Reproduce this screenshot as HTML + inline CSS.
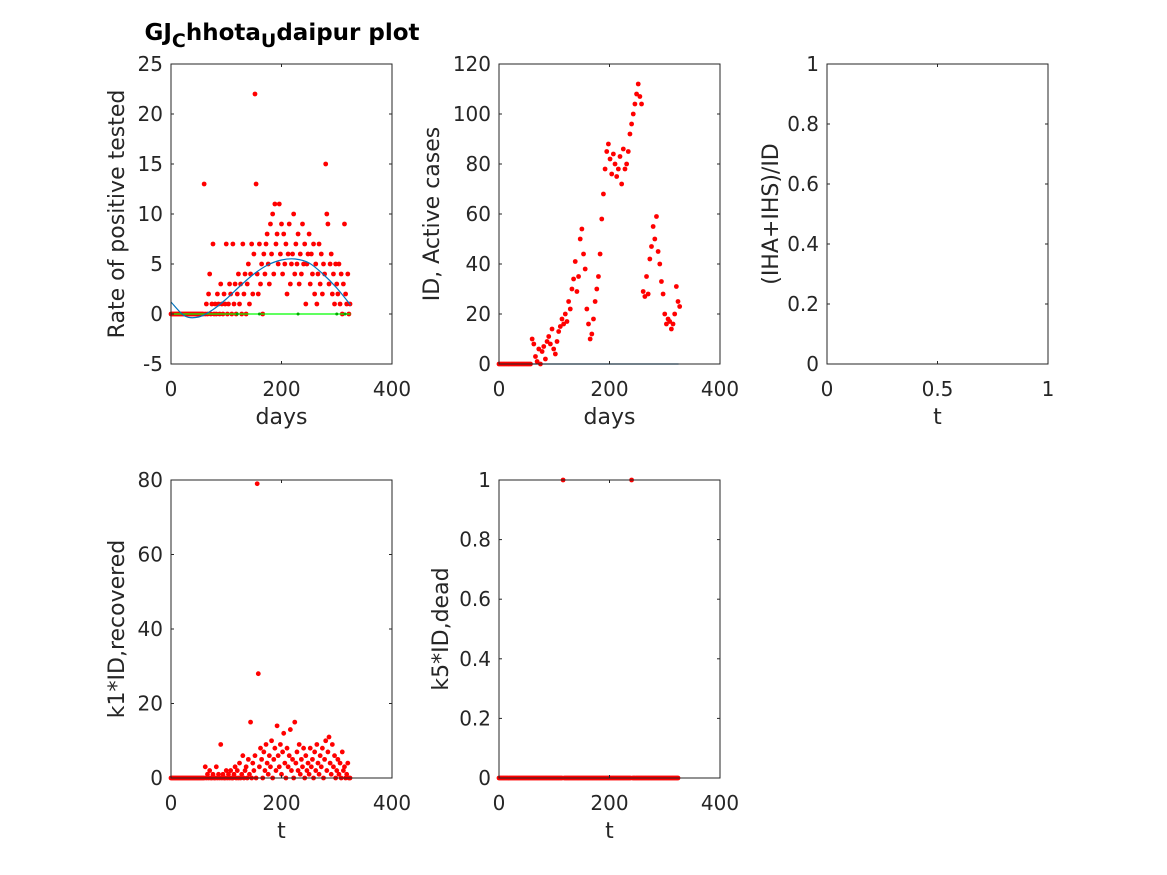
<!DOCTYPE html>
<html><head><meta charset="utf-8"><style>
body{margin:0;background:#fff;}
svg{display:block;font-family:"DejaVu Sans","Liberation Sans",sans-serif;}
</style></head><body>
<svg id="fig" width="1167" height="875" viewBox="0 0 1167 875" xmlns="http://www.w3.org/2000/svg">
<rect width="1167" height="875" fill="#fff"/>
<text x="282" y="40" text-anchor="middle" font-weight="bold" font-size="23" fill="#000">GJ<tspan font-size="19" dy="7">C</tspan><tspan dy="-7">hhota</tspan><tspan font-size="19" dy="7">U</tspan><tspan dy="-7">daipur plot</tspan></text>
</svg>
<script>
const rateStart=0, rateStep=2;
const rateVals=[0,0,0,0,0,0,0,0,0,0,0,0,0,0,0,0,0,0,0,0,0,0,0,0,0,0,0,0,0,0,
13,0,1,0,2,4,0,1,7,0,1,0,2,1,0,3,1,0,2,1,7,
0,1,3,2,0,7,1,3,0,2,4,1,3,0,7,2,4,0,3,5,1,4,7,2,6,
22,13,4,2,7,3,5,0,6,4,7,8,5,3,9,6,10,4,11,7,8,5,11,6,9,
4,8,5,7,2,6,9,3,5,6,10,4,7,5,8,3,6,4,9,5,7,1,5,6,8,
3,6,4,7,2,5,1,4,7,3,6,2,5,4,15,10,9,3,5,6,2,4,1,5,3,
2,5,1,4,0,3,9,2,1,4,0,1];
const fitDays=[0,25,50,75,100,125,150,175,200,225,250,275,300,325];
const fitVals=[1.2,-0.2,-0.3,0.4,1.5,2.8,4.0,4.9,5.4,5.5,5.1,4.0,2.6,0.9];
const greenDays=[0,325];
const greenVals=[0,0];
const greenDotDays=[120,160,230,300,315];
const activeStart=0, activeStep=3;
const activeVals=[0,0,0,0,0,0,0,0,0,0,0,0,0,0,0,0,0,0,0,0,
10,8,3,1,6,0,5,7,2,9,
11,8,14,6,4,9,13,15,18,16,
20,17,25,22,30,34,41,29,35,50,
54,44,38,22,16,10,12,18,25,30,
35,44,58,68,78,85,88,82,76,84,
80,75,78,83,72,86,78,80,85,92,
96,100,104,108,112,107,104,29,27,35,
28,42,47,55,50,59,45,40,33,28,
20,16,18,17,14,16,20,31,25,23];
const activeFitDays=[60,325];
const activeFitVals=[0,0];
const recStart=0, recStep=2;
const recVals=[0,0,0,0,0,0,0,0,0,0,0,0,0,0,0,0,0,0,0,0,0,0,0,0,0,0,0,0,0,0,
0,3,0,1,0,2,0,0,1,0,0,3,0,1,0,9,0,1,0,0,2,
0,1,0,2,0,0,1,3,0,2,0,4,0,1,6,0,2,3,0,5,1,15,0,4,2,
6,0,79,28,3,8,5,0,7,2,9,4,1,6,3,10,0,5,8,2,14,6,3,9,1,
7,12,4,0,8,3,6,13,2,5,0,15,4,7,2,9,1,5,3,8,0,6,2,4,1,
8,3,5,0,7,2,9,4,1,6,3,8,0,5,10,2,7,11,4,1,9,3,6,0,2,
5,1,4,0,7,2,3,0,1,4,0,0];
const deadStart=0, deadStep=2;
const deadVals=[0,0,0,0,0,0,0,0,0,0,0,0,0,0,0,0,0,0,0,0,0,0,0,0,0,0,0,0,0,0,
0,0,0,0,0,0,0,0,0,0,0,0,0,0,0,0,0,0,0,0,0,0,0,0,0,0,0,0,1,0,
0,0,0,0,0,0,0,0,0,0,0,0,0,0,0,0,0,0,0,0,0,0,0,0,0,0,0,0,0,0,
0,0,0,0,0,0,0,0,0,0,0,0,0,0,0,0,0,0,0,0,0,0,0,0,0,0,0,0,0,0,
1,0,0,0,0,0,0,0,0,0,0,0,0,0,0,0,0,0,0,0,0,0,0,0,0,0,0,0,0,0,
0,0,0,0,0,0,0,0,0,0,0,0,0];
const ticks1=[-5,0,5,10,15,20,25];
const ticks2=[0,20,40,60,80,100,120];
const ticks3=[0,0.2,0.4,0.6,0.8,1];
const ticks4=[0,20,40,60,80];
const ticksDays=[0,200,400];
const ticksT=[0,0.5,1];

const svg=document.getElementById('fig');
const NS='http://www.w3.org/2000/svg';
function mk(tag,attrs,parent){const e=document.createElementNS(NS,tag);for(const k in attrs)e.setAttribute(k,attrs[k]);(parent||svg).appendChild(e);return e;}

function axes(name,x0,y0,w,h,xmin,xmax,ymin,ymax,xt,yt,xlabel,ylabel,ylx){
  const g=mk('g',{});
  
  
  const sx=v=>x0+(v-xmin)/(xmax-xmin)*w;
  const sy=v=>y0+h-(v-ymin)/(ymax-ymin)*h;
  const plot=mk('g',{},g);
  
  
  const tl=3;
  xt.forEach(v=>{
    const x=sx(v);
    mk('line',{x1:x,y1:y0+h,x2:x,y2:y0+h-tl,stroke:'#262626','stroke-width':1},g);
    mk('line',{x1:x,y1:y0,x2:x,y2:y0+tl,stroke:'#262626','stroke-width':1},g);
    const t=mk('text',{x:x,y:y0+h+32,'text-anchor':'middle','font-size':20,fill:'#262626'},g);
    t.textContent=String(v);
    
    
  });
  yt.forEach(v=>{
    const y=sy(v);
    mk('line',{x1:x0,y1:y,x2:x0+tl,y2:y,stroke:'#262626','stroke-width':1},g);
    mk('line',{x1:x0+w,y1:y,x2:x0+w-tl,y2:y,stroke:'#262626','stroke-width':1},g);
    const t=mk('text',{x:x0-8,y:y+7,'text-anchor':'end','font-size':20,fill:'#262626'},g);
    t.textContent=String(v);
    
    
  });
  const xl=mk('text',{x:x0+w/2,y:y0+h+60,'text-anchor':'middle','font-size':22,fill:'#262626'},g);
  xl.textContent=xlabel;
  
  
  const yx=ylx+8;
  const yl=mk('text',{x:yx,y:y0+h/2,'text-anchor':'middle','font-size':22,fill:'#262626',transform:`rotate(-90 ${yx} ${y0+h/2})`},g);
  yl.textContent=ylabel;
  
  
  return {g,plot,sx,sy,frame:()=>mk('rect',{x:x0,y:y0,width:w,height:h,fill:'none',stroke:'#262626','stroke-width':1},g)};
}
function dots(ax,start,step,vals,color,r,name){
  vals.forEach((v,i)=>{
    const c=mk('circle',{cx:ax.sx(start+i*step),cy:ax.sy(v),r:r,fill:color},ax.plot);
    
    
  });
}
function line(ax,xs,ys,color,name){
  const p=mk('polyline',{points:xs.map((x,i)=>ax.sx(x)+','+ax.sy(ys[i])).join(' '),fill:'none',stroke:color,'stroke-width':1.2},ax.plot);
  
  
}
function smooth(ax,xs,ys,color,name){
  let d='M'+ax.sx(xs[0])+','+ax.sy(ys[0]);
  for(let i=0;i<xs.length-1;i++){
    const p0=[ax.sx(xs[Math.max(i-1,0)]),ax.sy(ys[Math.max(i-1,0)])],p1=[ax.sx(xs[i]),ax.sy(ys[i])],p2=[ax.sx(xs[i+1]),ax.sy(ys[i+1])],p3=[ax.sx(xs[Math.min(i+2,xs.length-1)]),ax.sy(ys[Math.min(i+2,xs.length-1)])];
    d+=` C${p1[0]+(p2[0]-p0[0])/6},${p1[1]+(p2[1]-p0[1])/6} ${p2[0]-(p3[0]-p1[0])/6},${p2[1]-(p3[1]-p1[1])/6} ${p2[0]},${p2[1]}`;
  }
  const p=mk('path',{d:d,fill:'none',stroke:color,'stroke-width':1.2},ax.plot);
  
  
}
const RED='#ff0000';
const a1=axes('rate-axes',171,64,221,300,0,400,-5,25,ticksDays,ticks1,'days','Rate of positive tested',116);
dots(a1,rateStart,rateStep,rateVals,RED,2.4,'rate-point');
line(a1,greenDays,greenVals,'#00ff00','zero-line');
greenDotDays.forEach(d=>{const c=mk('circle',{cx:a1.sx(d),cy:a1.sy(0),r:1.5,fill:'#00aa00'},a1.plot);});
smooth(a1,fitDays,fitVals,'#0072bd','rate-fit-curve');
a1.frame();
const a2=axes('active-axes',499,64,221,300,0,400,0,120,ticksDays,ticks2,'days','ID, Active cases',431);
line(a2,activeFitDays,activeFitVals,'#0072bd','active-fit-line');
dots(a2,activeStart,activeStep,activeVals,RED,2.4,'active-point');
a2.frame();
const a3=axes('ratio-axes',827,64,221,300,0,1,0,1,ticksT,ticks3,'t','(IHA+IHS)/ID',770);
a3.frame();
const a4=axes('recovered-axes',171,480,221,298,0,400,0,80,ticksDays,ticks4,'t','k1*ID,recovered',116);
dots(a4,recStart,recStep,recVals,RED,2.4,'recovered-point');
a4.frame();
const a5=axes('dead-axes',499,480,221,298,0,400,0,1,ticksDays,ticks3,'t','k5*ID,dead',440);
dots(a5,deadStart,deadStep,deadVals,RED,2.4,'dead-point');
a5.frame();
</script>
</body></html>
